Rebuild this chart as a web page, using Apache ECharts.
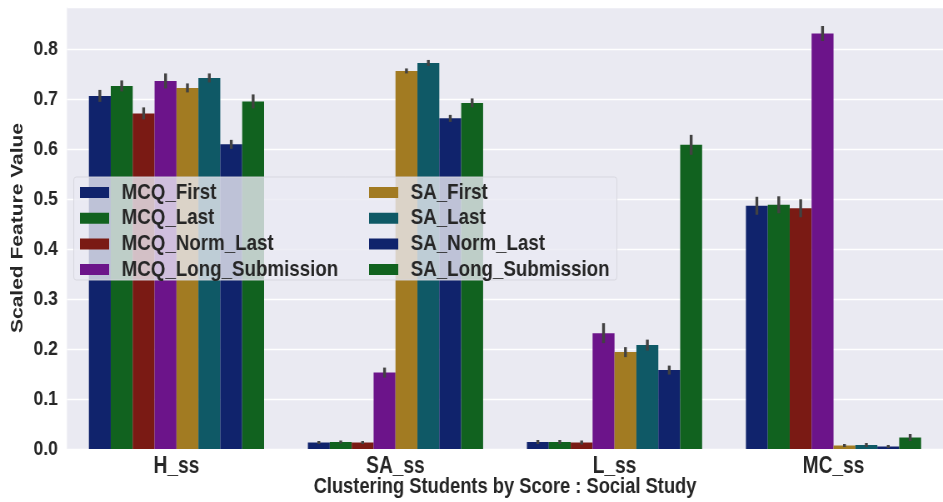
<!DOCTYPE html>
<html>
<head>
<meta charset="utf-8">
<script src="https://cdn.jsdelivr.net/npm/echarts@6/dist/echarts.min.js"></script>
<style>
  html, body { margin: 0; padding: 0; background: #ffffff; overflow: hidden; }
  /* the figure is laid out wide and then narrowed, giving the condensed lettering */
  #chart { width: 1132px; height: 502px; transform: scaleX(0.83304); transform-origin: 0 0; }
</style>
</head>
<body>
<div id="chart"></div>
<script>
const categories = ['H_ss', 'SA_ss', 'L_ss', 'MC_ss'];
const seriesNames = ['MCQ_First', 'MCQ_Last', 'MCQ_Norm_Last', 'MCQ_Long_Submission',
                     'SA_First', 'SA_Last', 'SA_Norm_Last', 'SA_Long_Submission'];

// mean scaled value per cluster feature
const mcqFirst      = [0.707, 0.013, 0.014, 0.487];
const mcqLast       = [0.727, 0.014, 0.014, 0.489];
const mcqNormLast   = [0.672, 0.013, 0.013, 0.482];
const mcqLongSub    = [0.737, 0.153, 0.232, 0.832];
const saFirst       = [0.723, 0.757, 0.194, 0.007];
const saLast        = [0.743, 0.773, 0.208, 0.008];
const saNormLast    = [0.610, 0.662, 0.158, 0.005];
const saLongSub     = [0.696, 0.693, 0.609, 0.023];

// half-width of the confidence interval
const mcqFirstErr   = [0.012, 0.003, 0.004, 0.018];
const mcqLastErr    = [0.011, 0.003, 0.004, 0.017];
const mcqNormErr    = [0.012, 0.003, 0.004, 0.018];
const mcqLongErr    = [0.015, 0.010, 0.020, 0.015];
const saFirstErr    = [0.009, 0.005, 0.010, 0.003];
const saLastErr     = [0.009, 0.006, 0.011, 0.004];
const saNormErr     = [0.009, 0.007, 0.009, 0.003];
const saLongErr     = [0.014, 0.009, 0.020, 0.007];

const yTicks = [0.0, 0.1, 0.2, 0.3, 0.4, 0.5, 0.6, 0.7, 0.8];

const values = [mcqFirst, mcqLast, mcqNormLast, mcqLongSub, saFirst, saLast, saNormLast, saLongSub];
const errors = [mcqFirstErr, mcqLastErr, mcqNormErr, mcqLongErr, saFirstErr, saLastErr, saNormErr, saLongErr];
const colors = ['#10236c', '#11621f', '#7a1a14', '#6c148a', '#a27b22', '#0f5966', '#10236c', '#11621f'];

const FONT = '"Liberation Sans", Arial, sans-serif';
const TEXT = '#262626';
const N = seriesNames.length;
const CAT_FILL = 0.8;

const barSeries = seriesNames.map((name, i) => ({
  name: name,
  type: 'bar',
  data: values[i],
  barGap: 0,
  barCategoryGap: '20%',
  itemStyle: { color: colors[i] },
  emphasis: { disabled: true },
  z: 2
}));

const errData = [];
values.forEach((vals, s) => {
  vals.forEach((v, c) => {
    errData.push([c, s, v - errors[s][c], v + errors[s][c]]);
  });
});

const errorSeries = {
  type: 'custom',
  name: 'ci',
  data: errData,
  encode: { x: 0, y: [2, 3] },
  z: 5,
  silent: true,
  renderItem: function (params, api) {
    const c = api.value(0);
    const s = api.value(1);
    const lo = api.coord([c, api.value(2)]);
    const hi = api.coord([c, api.value(3)]);
    const band = api.size([1, 0])[0];
    const barW = band * CAT_FILL / N;
    const x = lo[0] + (s - (N - 1) / 2) * barW;
    return {
      type: 'line',
      shape: { x1: x, y1: lo[1], x2: x, y2: hi[1] },
      style: { stroke: '#424242', lineWidth: 3.4 }
    };
  }
};

function legendBlock(names, left) {
  return {
    data: names,
    orient: 'vertical',
    left: left,
    top: 181,
    padding: 0,
    itemGap: 2.7,
    itemWidth: 35,
    itemHeight: 11,
    icon: 'rect',
    selectedMode: false,
    z: 6,
    textStyle: { fontFamily: FONT, fontWeight: 'bold', fontSize: 22.5, lineHeight: 22, color: TEXT, padding: [0, 0, 0, 10] }
  };
}

const chart = echarts.init(document.getElementById('chart'));
chart.setOption({
  backgroundColor: '#ffffff',
  animation: false,
  color: colors,
  grid: {
    left: 80.4, right: 0, top: 7, bottom: 53,
    outerBoundsMode: 'none',
    containLabel: false,
    show: true, backgroundColor: '#eaeaf2', borderWidth: 0
  },
  legend: [
    legendBlock(seriesNames.slice(0, 4), 96),
    legendBlock(seriesNames.slice(4), 443)
  ],
  graphic: [{
    type: 'rect',
    left: 88, top: 176.5,
    shape: { width: 652, height: 103, r: 3 },
    style: { fill: 'rgba(234,234,242,0.8)', stroke: 'rgba(214,214,222,0.9)', lineWidth: 1 },
    z: 4, silent: true
  }],
  xAxis: {
    type: 'category',
    data: categories,
    axisLine: { show: false },
    axisTick: { show: false },
    splitLine: { show: false },
    axisLabel: { fontFamily: FONT, fontWeight: 'bold', fontSize: 23, color: TEXT, margin: 6 },
    name: 'Clustering Students by Score : Social Study',
    nameLocation: 'middle',
    nameGap: 27,
    nameMoveOverlap: false,
    nameTextStyle: { fontFamily: FONT, fontWeight: 'bold', fontSize: 22, color: TEXT }
  },
  yAxis: {
    type: 'value',
    min: 0,
    max: 0.885,
    interval: 0.1,
    axisLine: { show: false },
    axisTick: { show: false },
    splitLine: { lineStyle: { color: '#ffffff', width: 1.4 } },
    axisLabel: {
      fontFamily: FONT, fontWeight: 'bold', fontSize: 21, color: TEXT, margin: 11,
      showMaxLabel: false,
      formatter: function (v) {
        const hit = yTicks.find(t => Math.abs(t - v) < 1e-6);
        return hit === undefined ? '' : hit.toFixed(1);
      }
    },
    name: 'Scaled Feature Value',
    nameLocation: 'middle',
    nameGap: 49,
    nameMoveOverlap: false,
    nameTextStyle: { fontFamily: FONT, fontWeight: 'bold', fontSize: 21, color: TEXT }
  },
  series: barSeries.concat([errorSeries])
});
</script>
</body>
</html>
